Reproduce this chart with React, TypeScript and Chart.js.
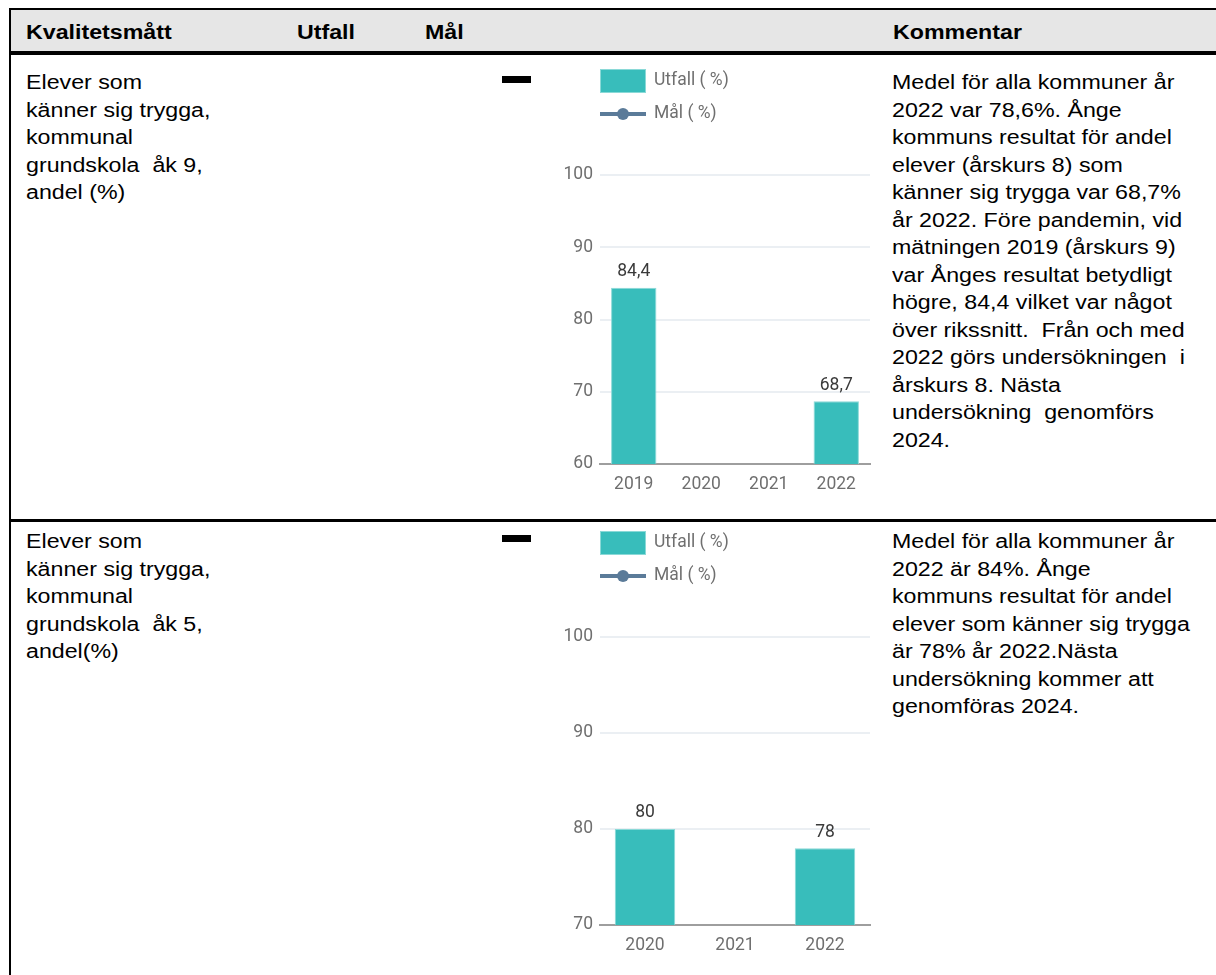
import React, { useEffect, useRef } from 'react';
import { Chart, registerables } from 'chart.js';

Chart.register(...registerables);

// ---------- DATA ----------
const headerLabels = ['Kvalitetsmått', 'Utfall', 'Mål', 'Kommentar'];

const seriesLabels = ['Utfall ( %)', 'Mål ( %)'];

const years1 = ['2019', '2020', '2021', '2022'];
const utfall1: (number | null)[] = [84.4, null, null, 68.7];
const mal1: (number | null)[] = [null, null, null, null];
const yTicks1 = [60, 70, 80, 90, 100];

const years2 = ['2020', '2021', '2022'];
const utfall2: (number | null)[] = [80, null, 78];
const mal2: (number | null)[] = [null, null, null];
const yTicks2 = [70, 80, 90, 100];

const measure1 = ['Elever som', 'känner sig trygga,', 'kommunal', 'grundskola  åk 9,', 'andel (%)'];
const measure2 = ['Elever som', 'känner sig trygga,', 'kommunal', 'grundskola  åk 5,', 'andel(%)'];

const comment1 = [
  'Medel för alla kommuner år',
  '2022 var 78,6%. Ånge',
  'kommuns resultat för andel',
  'elever (årskurs 8) som',
  'känner sig trygga var 68,7%',
  'år 2022. Före pandemin, vid',
  'mätningen 2019 (årskurs 9)',
  'var Ånges resultat betydligt',
  'högre, 84,4 vilket var något',
  'över rikssnitt.  Från och med',
  '2022 görs undersökningen  i',
  'årskurs 8. Nästa',
  'undersökning  genomförs',
  '2024.',
];
const comment2 = [
  'Medel för alla kommuner år',
  '2022 är 84%. Ånge',
  'kommuns resultat för andel',
  'elever som känner sig trygga',
  'är 78% år 2022.Nästa',
  'undersökning kommer att',
  'genomföras 2024.',
];

// ---------- STYLE ----------
const TEAL = '#38bdbb';
const TEAL_EDGE = '#8ad9d7';
const SLATE = '#5b7b99';
const TICK = '#6f6f6f';
const LABEL = '#3a3a3a';
const GRID = '#ebeff3';
const AXIS = '#9e9e9e';
const CHART_FONT = 'Roboto';

const fmt = (v: number) => String(v).replace('.', ',');

const legendPlugin = {
  id: 'vlegend',
  afterDraw(chart: any, _args: any, opts: any) {
    const ctx = chart.ctx;
    const x0 = chart.chartArea.left;
    ctx.save();
    chart.data.datasets.forEach((ds: any, i: number) => {
      const cy = opts.top + i * opts.gap;
      if (ds.type === 'line') {
        ctx.strokeStyle = ds.borderColor;
        ctx.lineWidth = 4;
        ctx.beginPath();
        ctx.moveTo(x0, cy);
        ctx.lineTo(x0 + 46, cy);
        ctx.stroke();
        ctx.fillStyle = ds.borderColor;
        ctx.beginPath();
        ctx.arc(x0 + 23, cy, 6, 0, Math.PI * 2);
        ctx.fill();
      } else {
        ctx.fillStyle = ds.backgroundColor;
        ctx.fillRect(x0, cy - 12, 46, 24);
        ctx.strokeStyle = TEAL_EDGE;
        ctx.lineWidth = 1;
        ctx.strokeRect(x0 + 0.5, cy - 11.5, 45, 23);
      }
      ctx.fillStyle = TICK;
      ctx.font = `17.5px ${CHART_FONT}`;
      ctx.textAlign = 'left';
      ctx.textBaseline = 'middle';
      ctx.fillText(ds.label, x0 + 54, cy);
    });
    ctx.restore();
  },
};

const valuePlugin = {
  id: 'vlabels',
  afterDatasetsDraw(chart: any) {
    const ctx = chart.ctx;
    const meta = chart.getDatasetMeta(0);
    const data = chart.data.datasets[0].data;
    ctx.save();
    ctx.fillStyle = LABEL;
    ctx.font = `17.5px ${CHART_FONT}`;
    ctx.textAlign = 'center';
    ctx.textBaseline = 'middle';
    meta.data.forEach((el: any, i: number) => {
      const v = data[i];
      if (v == null) return;
      ctx.fillText(fmt(v), el.x, el.y - 16);
    });
    ctx.restore();
  },
};

function BarChart(props: {
  labels: string[];
  values: (number | null)[];
  goals: (number | null)[];
  ticks: number[];
  xAxisHeight: number;
}) {
  const ref = useRef<HTMLCanvasElement | null>(null);
  useEffect(() => {
    if (!ref.current) return;
    const { labels, values, goals, ticks, xAxisHeight } = props;
    const chart = new Chart(ref.current, {
      type: 'bar',
      data: {
        labels,
        datasets: [
          {
            type: 'bar',
            label: seriesLabels[0],
            data: values,
            backgroundColor: TEAL,
            borderColor: TEAL_EDGE,
            borderWidth: 1,
            categoryPercentage: 0.8,
            barPercentage: 0.84,
          } as any,
          {
            type: 'line',
            label: seriesLabels[1],
            data: goals,
            borderColor: SLATE,
            backgroundColor: SLATE,
            borderWidth: 4,
            pointRadius: 6,
          } as any,
        ],
      },
      options: {
        animation: false,
        responsive: true,
        maintainAspectRatio: false,
        layout: { padding: { top: 115, left: 0, right: 3, bottom: 0 } },
        plugins: {
          legend: { display: false },
          tooltip: { enabled: false },
          vlegend: { top: 21, gap: 33 },
        } as any,
        scales: {
          x: {
            grid: { display: false, drawTicks: false },
            border: { display: true, color: AXIS, width: 2 },
            ticks: { color: TICK, font: { family: CHART_FONT, size: 17.5 }, padding: 10 },
            afterFit: (s: any) => {
              s.height = xAxisHeight;
            },
          },
          y: {
            min: ticks[0],
            max: ticks[ticks.length - 1],
            afterBuildTicks: (s: any) => {
              s.ticks = ticks.map((v) => ({ value: v }));
            },
            grid: { color: GRID, lineWidth: 2, drawTicks: false },
            border: { display: false },
            ticks: { color: TICK, font: { family: CHART_FONT, size: 17.5 }, padding: 7 },
            afterFit: (s: any) => {
              s.width = 60;
            },
          },
        },
      },
      plugins: [legendPlugin, valuePlugin],
    });
    return () => chart.destroy();
  }, []);
  return <canvas ref={ref} />;
}

const STRETCH = 1.16;

const bodyFont: React.CSSProperties = {
  fontFamily: '"Liberation Sans", Arial, sans-serif',
  fontSize: 20,
  color: '#000',
  whiteSpace: 'pre',
  transform: `scaleX(${STRETCH})`,
  transformOrigin: '0 0',
};

function Lines(props: { lines: string[]; left: number; top: number; lh: number }) {
  return (
    <div style={{ position: 'absolute', left: props.left, top: props.top, ...bodyFont, lineHeight: `${props.lh}px` }}>
      {props.lines.map((l, i) => (
        <div key={i}>{l}</div>
      ))}
    </div>
  );
}

const headerX = [26, 297, 425, 893];

export default function App() {
  const abs = (s: React.CSSProperties): React.CSSProperties => ({ position: 'absolute', ...s });
  return (
    <div style={abs({ left: 0, top: 0, width: 1216, height: 975, overflow: 'hidden', background: '#fff' })}>
      {/* header */}
      <div style={abs({ left: 9, top: 10, width: 1207, height: 41, background: '#e6e6e6' })} />
      <div style={abs({ left: 9, top: 8, width: 1207, height: 2, background: '#000' })} />
      <div style={abs({ left: 9, top: 51, width: 1207, height: 4, background: '#000' })} />
      <div style={abs({ left: 9, top: 519, width: 1207, height: 3, background: '#000' })} />
      <div style={abs({ left: 9, top: 8, width: 2, height: 967, background: '#000' })} />
      {headerLabels.map((h, i) => (
        <div
          key={h}
          style={abs({
            left: headerX[i],
            top: 21,
            ...bodyFont,
            fontWeight: 'bold',
            lineHeight: '22px',
          })}
        >
          {h}
        </div>
      ))}

      {/* row 1 */}
      <Lines lines={measure1} left={26} top={69} lh={27.5} />
      <div style={abs({ left: 502, top: 76, width: 29, height: 7, background: '#000' })} />
      <div style={abs({ left: 540, top: 60, width: 340, height: 440 })}>
        <BarChart labels={years1} values={utfall1} goals={mal1} ticks={yTicks1} xAxisHeight={36} />
      </div>
      <Lines lines={comment1} left={892} top={69} lh={27.5} />

      {/* row 2 */}
      <Lines lines={measure2} left={26} top={528} lh={27.5} />
      <div style={abs({ left: 502, top: 535, width: 29, height: 7, background: '#000' })} />
      <div style={abs({ left: 540, top: 522, width: 340, height: 453 })}>
        <BarChart labels={years2} values={utfall2} goals={mal2} ticks={yTicks2} xAxisHeight={50} />
      </div>
      <Lines lines={comment2} left={892} top={528} lh={27.5} />
    </div>
  );
}
